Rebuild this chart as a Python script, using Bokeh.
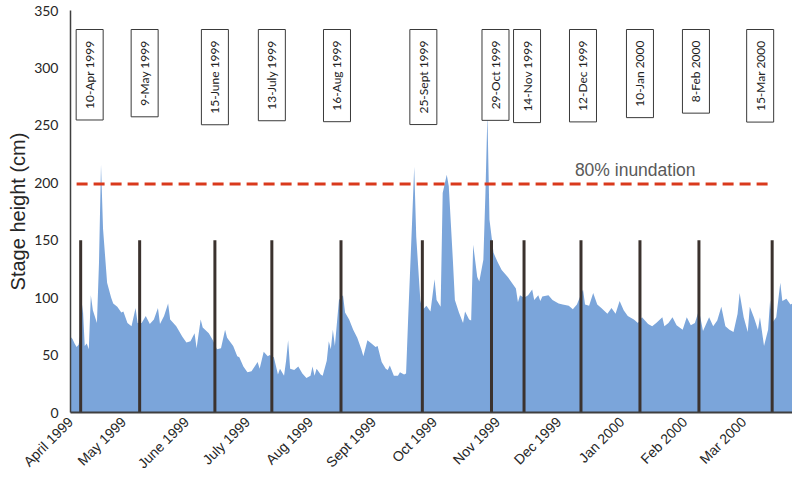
import math
from datetime import date

from bokeh.plotting import figure
from bokeh.models import Range1d, FixedTicker, Label, ColumnDataSource, Title
from bokeh.core.properties import value
from bokeh.embed import file_html
from bokeh.resources import INLINE

SERIES_START = date(1999, 4, 1)

# Daily stage record, keyed by day offset from 1 April 1999 (cm)
stage_day = [
    4, 5, 6, 7, 8, 9, 10, 11, 12, 13, 14, 15, 17, 18, 19, 20, 22, 24, 25, 27,
    29, 30, 32, 34, 36, 37, 39, 41, 43, 45, 47, 48, 50, 52, 53, 56, 57, 59, 61, 63,
    65, 66, 68, 69, 72, 74, 76, 78, 80, 81, 84, 86, 87, 89, 91, 93, 96, 97, 99, 101,
    102, 104, 106, 107, 109, 110, 111, 112, 114, 116, 118, 120, 122, 123, 124, 125, 127, 128, 130, 131,
    132, 133, 134, 136, 138, 139, 141, 143, 145, 147, 148, 150, 152, 154, 155, 157, 159, 160, 161, 163,
    165, 166, 168, 169, 170, 172, 173, 174, 176, 177, 179, 181, 183, 184, 186, 187, 189, 190, 192, 193,
    195, 197, 198, 200, 201, 202, 204, 205, 207, 208, 209, 210, 212, 214, 216, 219, 221, 223, 224, 225,
    227, 229, 231, 232, 234, 235, 236, 239, 241, 244, 246, 249, 251, 253, 256, 257, 259, 261, 263, 265,
    268, 270, 272, 274, 276, 278, 281, 283, 285, 288, 290, 292, 295, 296, 298, 300, 302, 305, 307, 309,
    311, 313, 315, 318, 320, 322, 324, 326, 328, 330, 332, 333, 335, 337, 338, 340, 342, 343, 345, 347,
    348, 349, 351, 353, 354, 356, 358, 359,
]
stage_cm = [
    66, 64, 60, 57, 59, 70, 94, 58, 60, 55, 102, 89, 78, 130, 216, 160, 113, 100, 95, 92,
    87, 88, 78, 75, 91, 78, 78, 84, 77, 81, 91, 77, 84, 95, 81, 75, 72, 66, 61, 62,
    69, 56, 81, 74, 69, 63, 55, 56, 72, 65, 58, 49, 48, 40, 35, 36, 44, 38, 53, 49,
    50, 48, 33, 38, 32, 45, 63, 38, 37, 40, 34, 30, 32, 40, 32, 38, 33, 32, 45, 62,
    55, 72, 58, 98, 102, 87, 81, 72, 65, 55, 49, 63, 60, 57, 58, 44, 38, 37, 41, 32,
    32, 35, 33, 34, 81, 168, 214, 153, 98, 89, 93, 88, 116, 98, 92, 191, 207, 197, 133, 98,
    87, 78, 88, 81, 80, 146, 118, 114, 133, 190, 260, 168, 139, 131, 124, 118, 113, 108, 96, 102,
    100, 102, 107, 98, 102, 97, 101, 102, 98, 95, 94, 93, 90, 94, 107, 94, 93, 104, 94, 91,
    86, 91, 86, 97, 89, 84, 81, 78, 83, 77, 75, 78, 83, 75, 78, 83, 76, 72, 83, 76,
    78, 89, 71, 83, 75, 80, 92, 75, 72, 70, 86, 104, 83, 70, 92, 83, 72, 83, 58, 72,
    98, 78, 83, 113, 97, 99, 94, 95,
]

# Water sampling dates
sampling_dates = [
    "1999-04-10", "1999-05-09", "1999-06-15", "1999-07-13", "1999-08-16", "1999-09-25",
    "1999-10-29", "1999-11-14", "1999-12-12", "2000-01-10", "2000-02-08", "2000-03-15",
]
sampling_labels = [
    "10-Apr 1999", "9-May 1999", "15-June 1999", "13-July 1999", "16-Aug 1999", "25-Sept 1999",
    "29-Oct 1999", "14-Nov 1999", "12-Dec 1999", "10-Jan 2000", "8-Feb 2000", "15-Mar 2000",
]
sampling_marker_height = 150

# Month axis
month_starts = [
    "1999-04-01", "1999-05-01", "1999-06-01", "1999-07-01", "1999-08-01", "1999-09-01",
    "1999-10-01", "1999-11-01", "1999-12-01", "2000-01-01", "2000-02-01", "2000-03-01",
]
month_labels = [
    "April 1999", "May 1999", "June 1999", "July 1999", "Aug 1999", "Sept 1999",
    "Oct 1999", "Nov 1999", "Dec 1999", "Jan 2000", "Feb 2000", "Mar 2000",
]
y_ticks = [0, 50, 100, 150, 200, 250, 300, 350]

# 80% inundation stage (cm) and the span it is drawn over
inundation_cm = 199
inundation_from = "1999-04-08"
inundation_to = "2000-03-15"
inundation_text = "80% inundation"

# small horizontal nudges (px) of the date tags so they do not collide
tag_nudge_px = [9, 5, 0, 0, -4, 1, 4, 3, 2, 0, -3, -12]


def day_of(s):
    return (date.fromisoformat(s) - SERIES_START).days


x_start, x_end = stage_day[0], stage_day[-1]

p = figure(
    width=792, height=480,
    x_range=Range1d(x_start, x_end), y_range=Range1d(0, 350),
    output_backend="svg", toolbar_location=None,
    min_border_left=70, min_border_right=0, min_border_top=10, min_border_bottom=67,
)
p.outline_line_color = None
p.xgrid.visible = False
p.ygrid.visible = False
p.background_fill_color = "white"
p.border_fill_color = "white"

# stage hydrograph as a filled area
src = ColumnDataSource(dict(day=stage_day, stage=stage_cm, base=[0] * len(stage_day)))
p.varea(x="day", y1="base", y2="stage", source=src, fill_color="#7ba5da", fill_alpha=1.0)

# sampling markers
sdays = [day_of(s) for s in sampling_dates]
p.segment(x0=sdays, y0=[0] * len(sdays), x1=sdays, y1=[sampling_marker_height] * len(sdays),
          line_color="#3b322e", line_width=3)

# inundation threshold
p.line(x=[day_of(inundation_from), day_of(inundation_to)], y=[inundation_cm, inundation_cm],
       line_color="#d9391c", line_width=3, line_dash="11 6")
p.add_layout(Label(x=252, y=inundation_cm, y_offset=4, text=inundation_text,
                   text_font="Liberation Sans", text_font_size="17.5px",
                   text_color="#595959", text_baseline="bottom"))

# boxed sampling date tags along the top
tag_src = ColumnDataSource(dict(x=sdays, y=[350] * len(sdays), text=sampling_labels,
                                dx=tag_nudge_px))
p.text(x="x", y="y", text="text", x_offset="dx", y_offset=19, source=tag_src,
       angle=math.pi / 2, text_align="right", text_baseline="middle",
       text_font=value("Lato"), text_font_size="12px", text_color="#222222",
       border_line_color="#3a3a3a", border_line_width=1,
       background_fill_color="white", padding=(11, 6))

# axes
tick_days = [max(day_of(s), x_start) for s in month_starts]
p.xaxis.ticker = FixedTicker(ticks=tick_days)
p.xaxis.major_label_overrides = {d: lab for d, lab in zip(tick_days, month_labels)}
p.xaxis.major_label_orientation = math.pi / 4
p.xaxis.major_label_text_font = "Liberation Sans"
p.xaxis.major_label_text_font_size = "14px"
p.xaxis.major_label_text_color = "#262626"
p.xaxis.major_tick_line_color = None
p.xaxis.minor_tick_line_color = None
p.xaxis.major_tick_out = 0
p.xaxis.major_tick_in = 0
p.xaxis.minor_tick_out = 0
p.xaxis.major_label_standoff = 7
p.xaxis.axis_line_color = "#3f3f3f"
p.xaxis.axis_line_width = 2

p.yaxis.ticker = FixedTicker(ticks=y_ticks)
p.yaxis.major_label_text_font = "Lato"
p.yaxis.major_label_text_font_size = "14px"
p.yaxis.major_label_text_color = "#262626"
p.yaxis.major_tick_line_color = None
p.yaxis.minor_tick_line_color = None
p.yaxis.major_tick_out = 0
p.yaxis.major_tick_in = 0
p.yaxis.minor_tick_out = 0
p.yaxis.major_label_standoff = 12
p.yaxis.axis_line_color = "#3f3f3f"
p.yaxis.axis_line_width = 1.5

p.add_layout(Title(text="Stage height (cm)", align="center", standoff=6,
                   text_font="Liberation Sans", text_font_size="20px",
                   text_font_style="normal", text_color="#262626"), "left")

open("out.html", "w").write(file_html(p, INLINE))
